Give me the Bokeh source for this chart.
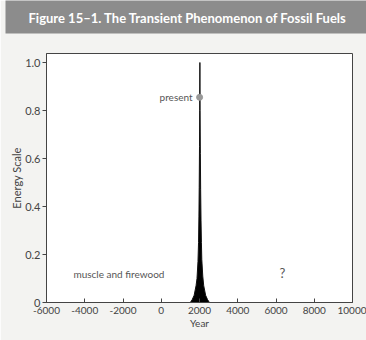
from bokeh.plotting import figure
from bokeh.models import Range1d, FixedTicker, Label, Title
from bokeh.embed import file_html
from bokeh.resources import INLINE

# data
years = [1520, 1620, 1720, 1820, 1870, 1920, 1950, 1970, 1985, 2000, 2010, 2020,
         2030, 2045, 2060, 2080, 2100, 2120, 2170, 2220, 2320, 2420, 2520]
energy = [0.0, 0.012, 0.03, 0.07, 0.10, 0.17, 0.25, 0.36, 0.48, 0.65, 0.80, 1.0,
          0.80, 0.62, 0.47, 0.34, 0.25, 0.18, 0.11, 0.07, 0.03, 0.012, 0.0]
present_year = [2005]
present_value = [0.855]
x_ticks = [-6000, -4000, -2000, 0, 2000, 4000, 6000, 8000, 10000]
x_tick_labels = {-6000: "-6000", -4000: "-4000", -2000: "-2000", 0: "0", 2000: "2000",
                 4000: "4000", 6000: "6000", 8000: "8000", 10000: "10000"}
y_ticks = [0, 0.2, 0.4, 0.6, 0.8, 1.0]
y_tick_labels = {0: "0", 0.2: "0.2", 0.4: "0.4", 0.6: "0.6", 0.8: "0.8", 1.0: "1.0"}
title_text = "Figure 15\u20131. The Transient Phenomenon of Fossil Fuels"
x_label = "Year"
y_label = "Energy Scale"

FONT = "Lato"

p = figure(width=366, height=340, output_backend="svg", toolbar_location=None,
           x_range=Range1d(-6000, 10000), y_range=Range1d(0, 1.0375),
           min_border_left=46, min_border_right=14, min_border_top=53, min_border_bottom=38)
p.background_fill_color = "#ffffff"
p.border_fill_color = "#f3f3f1"
p.outline_line_color = "#444444"
p.outline_line_width = 1
p.grid.visible = False

# title band (outermost panel, flush with the top)
p.title = Title(text=title_text, text_font=FONT, text_font_style="bold",
                text_font_size="13px", text_color="#ffffff",
                background_fill_color="#8c8c8c", align="left", vertical_align="top",
                offset=-41, standoff=0,
                padding=dict(left=23, right=40, top=9, bottom=8))
# spacer between title band and frame
p.add_layout(Title(text=" ", text_font=FONT, text_font_size="10px",
                   text_color="#f3f3f1", standoff=4), "above")

p.varea(x=years, y1=0, y2=energy, color="#000000")
p.line(x=years, y=energy, color="#111111", line_width=1)
p.scatter(x=present_year, y=present_value, size=6, color="#999999")

p.add_layout(Label(x=present_year[0], y=present_value[0], text="present", x_offset=-7,
                   text_align="right", text_baseline="middle", text_font=FONT,
                   text_font_size="10px", text_color="#555555"))
p.add_layout(Label(x=-4590, y=0.12, text="muscle and firewood", text_align="left",
                   text_baseline="middle", text_font=FONT, text_font_size="10px",
                   text_color="#555555"))
p.add_layout(Label(x=6340, y=0.125, text="?", text_align="center",
                   text_baseline="middle", text_font=FONT, text_font_size="13px",
                   text_color="#555555"))

for ax in (p.xaxis[0], p.yaxis[0]):
    ax.axis_line_color = "#444444"
    ax.major_tick_line_color = "#444444"
    ax.minor_tick_line_color = None
    ax.major_label_text_font = FONT
    ax.major_label_text_font_size = "10px"
    ax.major_label_text_color = "#444444"
    ax.axis_label_text_font = FONT
    ax.axis_label_text_font_size = "10px"
    ax.axis_label_text_font_style = "normal"
    ax.axis_label_text_color = "#444444"

p.xaxis.ticker = FixedTicker(ticks=x_ticks)
p.xaxis.major_label_overrides = x_tick_labels
p.xaxis.major_tick_in = 4
p.xaxis.major_tick_out = 0
p.xaxis.major_label_standoff = 4
p.xaxis.axis_label = x_label
p.xaxis.axis_label_standoff = 0

p.yaxis.ticker = FixedTicker(ticks=y_ticks)
p.yaxis.major_label_overrides = y_tick_labels
p.yaxis.major_label_text_font_size = "11px"
p.yaxis.major_tick_in = 0
p.yaxis.major_tick_out = 4
p.yaxis.major_label_standoff = 2
p.yaxis.axis_label = y_label
p.yaxis.axis_label_text_font_size = "11px"
p.yaxis.axis_label_standoff = -1

open("out.html", "w").write(file_html(p, INLINE))
